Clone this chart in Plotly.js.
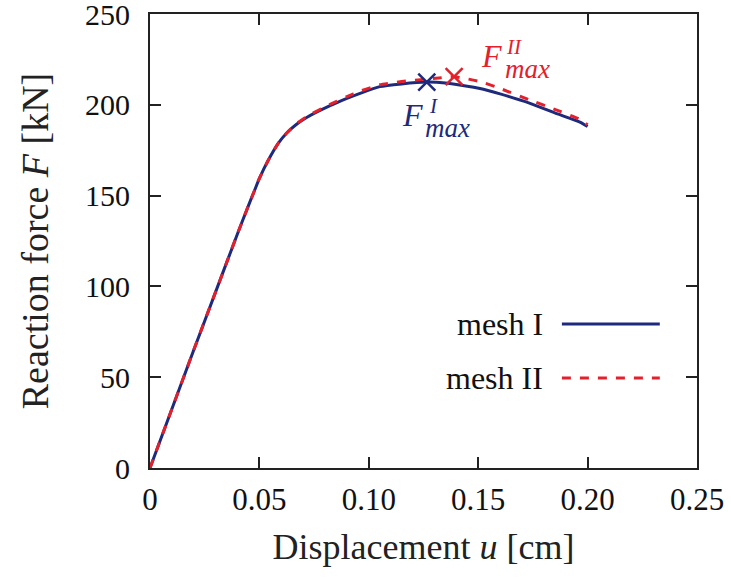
<!DOCTYPE html>
<html>
<head>
<meta charset="utf-8">
<script src="https://cdn.plot.ly/plotly-3.0.1.min.js"></script>
<style>html,body{margin:0;padding:0;background:#fff;}</style>
</head>
<body>
<div id="chart" style="width:731px;height:579px;"></div>
<script>
// Data
const meshI_u = [0, 0.01, 0.02, 0.03, 0.04, 0.045, 0.0475, 0.05, 0.0541, 0.0586, 0.0625, 0.067, 0.0716, 0.0823, 0.09, 0.096, 0.105, 0.115, 0.1265, 0.135, 0.1508, 0.16, 0.1737, 0.185, 0.1965, 0.20];
const meshI_F = [0, 32.5, 65, 97, 129, 144.5, 152, 159.5, 169.6, 178.8, 184.5, 189.3, 193, 199.5, 203.5, 206.3, 210, 211.5, 212.5, 212, 209, 206, 200.8, 195.5, 190.5, 188];
const meshII_u = [0, 0.01, 0.02, 0.03, 0.04, 0.045, 0.0475, 0.05, 0.0541, 0.0586, 0.0625, 0.067, 0.0716, 0.0823, 0.09, 0.096, 0.105, 0.115, 0.125, 0.132, 0.139, 0.1508, 0.16, 0.1737, 0.185, 0.1965, 0.20];
const meshII_F = [0, 32.5, 65, 97, 129, 144.5, 152, 159.5, 169.6, 178.8, 184.5, 189.6, 193.5, 200.2, 204.5, 207.5, 211, 212.8, 214, 214.8, 215.5, 212.8, 209, 202.6, 197.5, 192, 189];
const peakI = {u: 0.1265, F: 212.5};
const peakII = {u: 0.139, F: 215.5};
const seriesNames = ["mesh I", "mesh II"];
const xTicks = [0, 0.05, 0.10, 0.15, 0.20, 0.25];
const xTickText = ["0", "0.05", "0.10", "0.15", "0.20", "0.25"];
const yTicks = [0, 50, 100, 150, 200, 250];

const blue = "#1e2a7c";
const red = "#e3202b";
const serif = "Liberation Serif, DejaVu Serif, serif";

const traces = [
  {x: meshI_u, y: meshI_F, mode: "lines", name: seriesNames[0], line: {color: blue, width: 3, shape: "spline", smoothing: 0.5}},
  {x: meshII_u, y: meshII_F, mode: "lines", name: seriesNames[1], line: {color: red, width: 3, dash: "dash", shape: "spline", smoothing: 0.5}},
  {x: [peakI.u], y: [peakI.F], mode: "markers", showlegend: false, marker: {symbol: "x-thin", size: 17, line: {color: blue, width: 2.5}}},
  {x: [peakII.u], y: [peakII.F], mode: "markers", showlegend: false, marker: {symbol: "x-thin", size: 17, line: {color: red, width: 2.5}}}
];

function lab(p, txt, xs, ys, size, color, anchor) {
  return {x: p.u, y: p.F, xref: "x", yref: "y", text: txt, showarrow: false, xanchor: anchor || "center",
    xshift: xs, yshift: ys, font: {family: serif, size: size, color: color}};
}

const annotations = [
  lab(peakI, "<i>F</i>", -2, -33, 32, blue, "right"),
  lab(peakI, "<i>I</i>", 0, -24, 21, blue, "left"),
  lab(peakI, "<i>max</i>", -4, -46, 27, blue, "left"),
  lab(peakII, "<i>F</i>", 50, 21, 32, red, "right"),
  lab(peakII, "<i>II</i>", 50, 30, 21, red, "left"),
  lab(peakII, "<i>max</i>", 49, 8, 27, red, "left"),
  {x: 0.722, y: 0.317, xref: "paper", yref: "paper", xanchor: "right", yanchor: "middle", showarrow: false,
    text: seriesNames[0], font: {family: serif, size: 32, color: "#111"}},
  {x: 0.722, y: 0.198, xref: "paper", yref: "paper", xanchor: "right", yanchor: "middle", showarrow: false,
    text: seriesNames[1], font: {family: serif, size: 32, color: "#111"}}
];

const shapes = [
  {type: "line", xref: "paper", yref: "paper", x0: 0.753, x1: 0.932, y0: 0.317, y1: 0.317, line: {color: blue, width: 3}},
  {type: "line", xref: "paper", yref: "paper", x0: 0.753, x1: 0.932, y0: 0.198, y1: 0.198, line: {color: red, width: 3, dash: "dash"}}
];

const layout = {
  width: 731, height: 579,
  margin: {l: 150, r: 34, t: 14, b: 111},
  paper_bgcolor: "#fff", plot_bgcolor: "#fff",
  showlegend: false,
  font: {family: serif, color: "#111"},
  xaxis: {
    range: [0, 0.25], tickvals: xTicks, ticktext: xTickText,
    showgrid: false, zeroline: false, showline: true, mirror: "ticks",
    linecolor: "#222", linewidth: 2, ticks: "inside", ticklen: 11, tickwidth: 2, tickcolor: "#222",
    tickfont: {family: serif, size: 31, color: "#111"}, ticklabelstandoff: 3, ticklabeloverflow: "allow",
    title: {text: "Displacement <i>u</i> [cm]", font: {family: serif, size: 36, color: "#222"}, standoff: 18}
  },
  yaxis: {
    range: [0, 250], tickvals: yTicks,
    showgrid: false, zeroline: false, showline: true, mirror: "ticks",
    linecolor: "#222", linewidth: 2, ticks: "inside", ticklen: 11, tickwidth: 2, tickcolor: "#222",
    tickfont: {family: serif, size: 30, color: "#111"}, ticklabelstandoff: 12, ticklabeloverflow: "allow",
    title: {text: "Reaction force <i>F</i> [kN]", font: {family: serif, size: 38, color: "#222"}, standoff: 25}
  },
  annotations: annotations,
  shapes: shapes
};

Plotly.newPlot("chart", traces, layout, {staticPlot: true, displayModeBar: false});
</script>
</body>
</html>
